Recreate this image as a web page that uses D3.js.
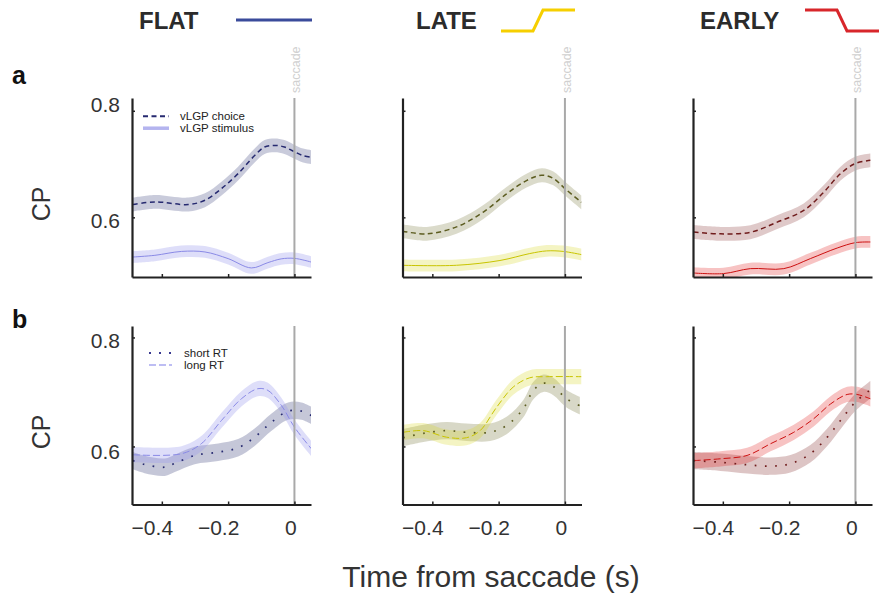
<!DOCTYPE html>
<html>
<head>
<meta charset="utf-8">
<script src="https://cdn.jsdelivr.net/npm/d3@7"></script>
<style>
  body { margin: 0; background: #fff; }
  svg { display: block; }
  text { font-family: "Liberation Sans", Arial, Helvetica, sans-serif; }
</style>
</head>
<body>
<svg id="chart" width="896" height="594"></svg>
<script>
// conditions and labels
const columns = ["FLAT", "LATE", "EARLY"];
const rowLetters = ["a", "b"];
const xTicks = [-0.4, -0.2, 0];
const yTicks = [0.6, 0.8];

// row a: choice (dashed) and stimulus (solid), CP over time from saccade (s)
const flatChoiceT = [-0.487, -0.421, -0.32, -0.27, -0.22, -0.17, -0.12, -0.09, -0.06, -0.03, 0.0, 0.026, 0.051];
const flatChoiceCP = [0.624, 0.629, 0.624, 0.632, 0.654, 0.682, 0.716, 0.732, 0.735, 0.732, 0.723, 0.716, 0.713];
const flatStimT = [-0.487, -0.421, -0.341, -0.27, -0.2, -0.13, -0.08, -0.04, 0, 0.051];
const flatStimCP = [0.5255, 0.5287, 0.536, 0.535, 0.5225, 0.505, 0.515, 0.522, 0.523, 0.516];
const lateChoiceT = [-0.49, -0.417, -0.327, -0.246, -0.176, -0.116, -0.07, -0.035, 0, 0.05];
const lateChoiceCP = [0.574, 0.569, 0.582, 0.61, 0.644, 0.669, 0.679, 0.673, 0.654, 0.628];
const lateStimT = [-0.49, -0.327, -0.196, -0.106, -0.055, -0.005, 0.05];
const lateStimCP = [0.51, 0.51, 0.519, 0.532, 0.537, 0.536, 0.530];
const earlyChoiceT = [-0.488, -0.407, -0.317, -0.236, -0.156, -0.096, -0.045, 0, 0.045];
const earlyChoiceCP = [0.5724, 0.569, 0.572, 0.591, 0.613, 0.647, 0.682, 0.701, 0.707];
const earlyStimT = [-0.488, -0.398, -0.317, -0.216, -0.136, -0.055, 0, 0.045];
const earlyStimCP = [0.4955, 0.4944, 0.5037, 0.5037, 0.5225, 0.5424, 0.5525, 0.5537];

// row b: short RT (dotted) and long RT (dashed)
const flatShortT = [-0.487, -0.452, -0.391, -0.361, -0.301, -0.23, -0.17, -0.12, -0.069, -0.019, 0.021, 0.051];
const flatShortCP = [0.574, 0.567, 0.562, 0.569, 0.5835, 0.5895, 0.5976, 0.617, 0.6446, 0.6648, 0.6648, 0.657];
const flatLongT = [-0.487, -0.341, -0.281, -0.22, -0.16, -0.11, -0.08, -0.039, 0, 0.051];
const flatLongCP = [0.5848, 0.5866, 0.605, 0.6477, 0.6875, 0.706, 0.7028, 0.675, 0.6354, 0.5958];
const lateShortT = [-0.488, -0.427, -0.357, -0.297, -0.226, -0.176, -0.126, -0.095, -0.065, -0.035, 0.005, 0.045];
const lateShortCP = [0.616, 0.624, 0.629, 0.626, 0.626, 0.6385, 0.669, 0.7028, 0.716, 0.71, 0.6875, 0.675];
const lateLongT = [-0.488, -0.427, -0.357, -0.297, -0.256, -0.206, -0.156, -0.106, -0.055, 0.05];
const lateLongCP = [0.626, 0.629, 0.617, 0.616, 0.629, 0.672, 0.709, 0.726, 0.728, 0.728];
const earlyShortT = [-0.488, -0.407, -0.327, -0.256, -0.196, -0.136, -0.085, -0.045, 0, 0.045];
const earlyShortCP = [0.574, 0.571, 0.5664, 0.5639, 0.5682, 0.5866, 0.617, 0.6477, 0.6813, 0.704];
const earlyLongT = [-0.488, -0.407, -0.327, -0.256, -0.186, -0.126, -0.075, -0.025, 0.005, 0.045];
const earlyLongCP = [0.574, 0.5774, 0.5835, 0.605, 0.626, 0.6508, 0.678, 0.6954, 0.6954, 0.6875];

// half width of the shaded error bands
const bandHalf = { choice: 0.013, stim: 0.011, short: 0.016, long: 0.014 };

// colours per condition
const darkLine = ["#262a70", "#5c5c20", "#701c1c"];
const lightLine = ["#8a8ae6", "#c8c400", "#cc1010"];
const darkBand = ["#283070", "#707030", "#802828"];
const lightBand = ["#9a9aee", "#d8d820", "#e02020"];
const iconColor = ["#3a4b9b", "#f6cf00", "#d8262b"];

const panelLeft = [132, 402.5, 693],
    panelW = 179;
const rowTop = [98, 326],
    rowBottom = [277, 504.5];
const rowDomain = [[0.488, 0.824], [0.4935, 0.821]];
const xDomain = [-0.49, 0.05];
// small vertical nudges of the y tick labels, as placed in the original figure
const yLabelShift = [{0.6: 3, 0.8: -6}, {0.6: 5, 0.8: 3}];

const series = [
    [
        [{t: flatChoiceT, v: flatChoiceCP, k: "choice"}, {t: flatStimT, v: flatStimCP, k: "stim"}],
        [{t: lateChoiceT, v: lateChoiceCP, k: "choice"}, {t: lateStimT, v: lateStimCP, k: "stim"}],
        [{t: earlyChoiceT, v: earlyChoiceCP, k: "choice"}, {t: earlyStimT, v: earlyStimCP, k: "stim"}]
    ],
    [
        [{t: flatShortT, v: flatShortCP, k: "short"}, {t: flatLongT, v: flatLongCP, k: "long"}],
        [{t: lateShortT, v: lateShortCP, k: "short"}, {t: lateLongT, v: lateLongCP, k: "long"}],
        [{t: earlyShortT, v: earlyShortCP, k: "short"}, {t: earlyLongT, v: earlyLongCP, k: "long"}]
    ]
];

const styleOf = (k, c) => {
    if (k === "choice") return {stroke: darkLine[c], width: 1.5, dash: "5,3.5", band: darkBand[c], op: 0.25};
    if (k === "stim") return {stroke: lightLine[c], width: 1, dash: null, band: lightBand[c], op: c === 0 ? 0.33 : 0.27};
    if (k === "short") return {stroke: darkLine[c], width: 1.7, dash: "1.7,8.5", band: darkBand[c], op: 0.27};
    return {stroke: lightLine[c], width: 1, dash: "7,3", band: lightBand[c], op: c === 0 ? 0.33 : 0.27};
};

const svg = d3.select("#chart");
const defs = svg.append("defs");

// column headers with stimulus shape icons
const headerX = [139, 416, 700];
const iconPts = [
    [[236, 20], [312, 20]],
    [[501, 31], [533, 31], [543, 10], [575, 10]],
    [[805, 10], [837, 10], [847, 31], [879, 31]]
];
columns.forEach((name, c) => {
    svg.append("text")
        .attr("x", headerX[c])
        .attr("y", 28.5)
        .attr("font-size", 24)
        .attr("font-weight", "bold")
        .attr("fill", "#2b2b2b")
        .text(name);
    svg.append("path")
        .attr("d", d3.line()(iconPts[c]))
        .attr("fill", "none")
        .attr("stroke", iconColor[c])
        .attr("stroke-width", 3);
});

rowLetters.forEach((l, r) => {
    svg.append("text")
        .attr("x", 12)
        .attr("y", [84, 328][r])
        .attr("font-size", 25)
        .attr("font-weight", "bold")
        .attr("fill", "#111")
        .text(l);
    svg.append("text")
        .attr("transform", `translate(50,${[204, 432][r]}) rotate(-90)`)
        .attr("text-anchor", "middle")
        .attr("font-size", 25)
        .attr("fill", "#333")
        .text("CP");
});

rowLetters.forEach((l, r) => {
    columns.forEach((name, c) => {
        const x = d3.scaleLinear().domain(xDomain).range([panelLeft[c], panelLeft[c] + panelW]);
        const y = d3.scaleLinear().domain(rowDomain[r]).range([rowBottom[r], rowTop[r]]);
        const g = svg.append("g");
        const clipId = `clip-${r}-${c}`;
        defs.append("clipPath").attr("id", clipId)
            .append("rect")
            .attr("x", panelLeft[c]).attr("y", rowTop[r])
            .attr("width", panelW).attr("height", rowBottom[r] - rowTop[r]);
        const plot = g.append("g").attr("clip-path", `url(#${clipId})`);

        const list = series[r][c];
        list.forEach(s => {
            const st = styleOf(s.k, c);
            const h = bandHalf[s.k];
            const pts = s.t.map((t, i) => ({t: t, v: s.v[i]}));
            plot.append("path")
                .attr("d", d3.area()
                    .curve(d3.curveCatmullRom)
                    .x(d => x(d.t))
                    .y0(d => y(d.v - h))
                    .y1(d => y(d.v + h))(pts))
                .attr("fill", st.band)
                .attr("fill-opacity", st.op);
        });

        // saccade marker
        g.append("line")
            .attr("x1", x(0)).attr("x2", x(0))
            .attr("y1", rowTop[r]).attr("y2", rowBottom[r])
            .attr("stroke", "#a9a9a9")
            .attr("stroke-width", 2);

        list.forEach(s => {
            const st = styleOf(s.k, c);
            const pts = s.t.map((t, i) => ({t: t, v: s.v[i]}));
            plot.append("path")
                .attr("d", d3.line().curve(d3.curveCatmullRom).x(d => x(d.t)).y(d => y(d.v))(pts))
                .attr("fill", "none")
                .attr("stroke", st.stroke)
                .attr("stroke-width", st.width)
                .attr("stroke-dasharray", st.dash);
        });

        if (r === 0) {
            svg.append("text")
                .attr("transform", `translate(${x(0) + 6},93) rotate(-90)`)
                .attr("font-size", 12.5)
                .attr("fill", "#d0d0d0")
                .text("saccade");
        }

        // axes
        const yAxis = d3.axisLeft(y).tickValues(yTicks)
            .tickSizeInner(-3).tickSizeOuter(0).tickPadding(12)
            .tickFormat(c === 0 ? d3.format(".1f") : "");
        const ya = g.append("g").attr("transform", `translate(${panelLeft[c]},0)`).call(yAxis);
        const xAxis = d3.axisBottom(x).tickValues(xTicks)
            .tickSizeInner(-3).tickSizeOuter(0).tickPadding(16)
            .tickFormat(r === 1 ? (d => d === 0 ? "0" : d3.format(".1f")(d).replace("-", "\u2212")) : "");
        const xa = g.append("g").attr("transform", `translate(0,${rowBottom[r]})`).call(xAxis);
        [ya, xa].forEach(a => {
            a.select(".domain").attr("stroke", "#222").attr("stroke-width", 2.2);
            a.selectAll(".tick line").attr("stroke", "#222").attr("stroke-width", 1.5);
            a.selectAll("text")
                .attr("font-family", "\"Liberation Sans\", Arial, sans-serif")
                .attr("font-size", 21)
                .attr("fill", "#333");
        });
        xa.selectAll(".tick text").attr("dx", d => d === 0 ? -4 : -10);
        ya.selectAll(".tick text").attr("y", d => yLabelShift[r][d]);
    });
});

// legends
const legendA = [
    {label: "vLGP choice", y: 116.2, k: "choice"},
    {label: "vLGP stimulus", y: 128.2, k: "stim"}
];
legendA.forEach(e => {
    const st = styleOf(e.k, 0);
    svg.append("line")
        .attr("x1", 143).attr("x2", 169)
        .attr("y1", e.y).attr("y2", e.y)
        .attr("stroke", e.k === "stim" ? "#b4b4ef" : st.stroke)
        .attr("stroke-width", e.k === "stim" ? 3.5 : 2)
        .attr("stroke-dasharray", st.dash);
    svg.append("text")
        .attr("x", 180).attr("y", e.y + 4)
        .attr("font-size", 11.5)
        .attr("fill", "#222")
        .text(e.label);
});
const legendB = [
    {label: "short RT", y: 353, k: "short"},
    {label: "long RT", y: 365, k: "long"}
];
legendB.forEach(e => {
    const st = styleOf(e.k, 0);
    svg.append("line")
        .attr("x1", 149).attr("x2", 172)
        .attr("y1", e.y).attr("y2", e.y)
        .attr("stroke", e.k === "long" ? "#a8a8f0" : "#3a3a90")
        .attr("stroke-width", e.k === "long" ? 1.5 : 2)
        .attr("stroke-dasharray", e.k === "long" ? "7,3" : "2,8");
    svg.append("text")
        .attr("x", 184).attr("y", e.y + 4)
        .attr("font-size", 11.5)
        .attr("fill", "#222")
        .text(e.label);
});

svg.append("text")
    .attr("x", 491)
    .attr("y", 587)
    .attr("text-anchor", "middle")
    .attr("font-size", 30)
    .attr("fill", "#333")
    .text("Time from saccade (s)");
</script>
</body>
</html>
